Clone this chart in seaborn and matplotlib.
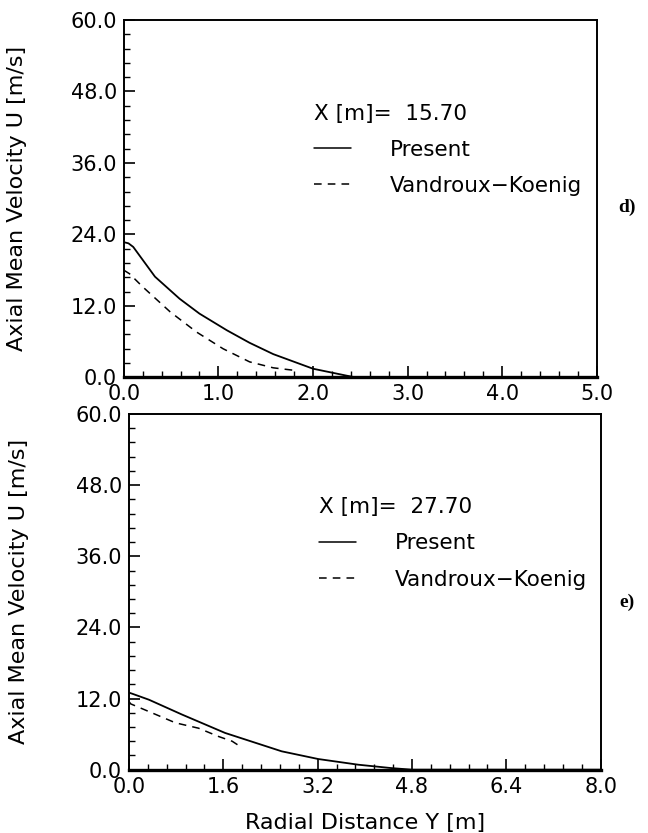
import numpy as np
import pandas as pd
import matplotlib
matplotlib.use('Agg')
import matplotlib.pyplot as plt
import seaborn as sns
from matplotlib.ticker import MultipleLocator, AutoMinorLocator, FormatStrFormatter

# Panel d) X = 15.70 m
d_present_y = [0.0, 0.05, 0.10, 0.33, 0.59, 0.80, 1.09, 1.33, 1.58, 2.00, 2.35, 2.45, 3.0, 4.0, 5.0]
d_present_u = [22.7, 22.5, 21.9, 16.9, 13.2, 10.7, 7.9, 5.8, 3.9, 1.45, 0.3, 0.0, 0.0, 0.0, 0.0]
d_vk_y = [0.0, 0.06, 0.20, 0.49, 0.77, 1.05, 1.33, 1.58, 1.79]
d_vk_u = [18.0, 17.4, 15.2, 11.0, 7.6, 4.8, 2.6, 1.6, 1.2]

# Panel e) X = 27.70 m
e_present_y = [0.0, 0.06, 0.34, 0.90, 1.63, 2.59, 3.21, 3.89, 4.44, 4.80, 6.4, 8.0]
e_present_u = [13.0, 12.8, 11.8, 9.3, 6.2, 3.1, 1.8, 0.84, 0.28, 0.0, 0.0, 0.0]
e_vk_y = [0.0, 0.03, 0.34, 0.79, 1.18, 1.52, 1.75, 1.92]
e_vk_u = [11.5, 11.1, 9.8, 7.9, 7.0, 5.6, 4.8, 3.7]

sns.set_style('ticks')
plt.rcParams['font.family'] = ['DejaVu Sans']
plt.rcParams['font.size'] = 15
# plain black like the printed figure
for key in ['text.color', 'axes.labelcolor', 'xtick.color', 'ytick.color', 'axes.edgecolor']:
    plt.rcParams[key] = 'black'

fig = plt.figure(figsize=(6.48, 8.33), dpi=100)
ax1 = fig.add_axes([0.191, 0.547, 0.730, 0.429])
ax2 = fig.add_axes([0.199, 0.076, 0.728, 0.427])

dash = (0, (5, 4))

panels = [
    (ax1, d_present_y, d_present_u, d_vk_y, d_vk_u, 5.0, 1.0, 'X [m]=  15.70', 'd)', 0.751, -0.205),
    (ax2, e_present_y, e_present_u, e_vk_y, e_vk_u, 8.0, 1.6, 'X [m]=  27.70', 'e)', 0.277, -0.212),
]

for ax, py, pu, vy, vu, xmax, xstep, title, tag, tag_y, lab_x in panels:
    sns.lineplot(x=py, y=pu, ax=ax, color='black', lw=1.3, sort=False,
                 estimator=None, label='Present')
    sns.lineplot(x=vy, y=vu, ax=ax, color='black', lw=1.1, sort=False,
                 estimator=None, linestyle=dash, label='Vandroux\u2212Koenig')
    ax.set_xlim(0, xmax)
    ax.set_ylim(0, 60)
    ax.xaxis.set_major_locator(MultipleLocator(xstep))
    ax.yaxis.set_major_locator(MultipleLocator(12))
    ax.xaxis.set_minor_locator(AutoMinorLocator(5))
    ax.yaxis.set_minor_locator(AutoMinorLocator(5))
    ax.xaxis.set_major_formatter(FormatStrFormatter('%.1f'))
    ax.yaxis.set_major_formatter(FormatStrFormatter('%.1f'))
    ax.tick_params(which='major', direction='in', length=8, width=1.2,
                   labelsize=15, pad=5, top=False, right=False)
    ax.tick_params(which='minor', direction='in', length=4, width=1.0,
                   top=False, right=False)
    for side in ['left', 'top', 'right']:
        ax.spines[side].set_linewidth(1.4)
    ax.spines['bottom'].set_linewidth(2.4)
    ax.set_ylabel('Axial Mean Velocity U [m/s]', fontsize=16)
    ax.yaxis.set_label_coords(lab_x, 0.5)
    ax.set_xlabel('')
    leg = ax.legend(title=title, loc='upper left', bbox_to_anchor=(0.385, 0.79),
                    frameon=False, fontsize=15.5, title_fontsize=15.5,
                    handlelength=1.7, handletextpad=1.8, labelspacing=0.75,
                    alignment='left', borderaxespad=0)
    for line in leg.get_lines():
        line.set_linewidth(1.1)
    fig.text(0.967, tag_y, tag, fontsize=14, fontweight='bold',
             family='Liberation Serif', ha='center', va='center')

ax2.set_xlabel('Radial Distance Y [m]', fontsize=16, labelpad=12)

fig.savefig('out.png', dpi=100)
